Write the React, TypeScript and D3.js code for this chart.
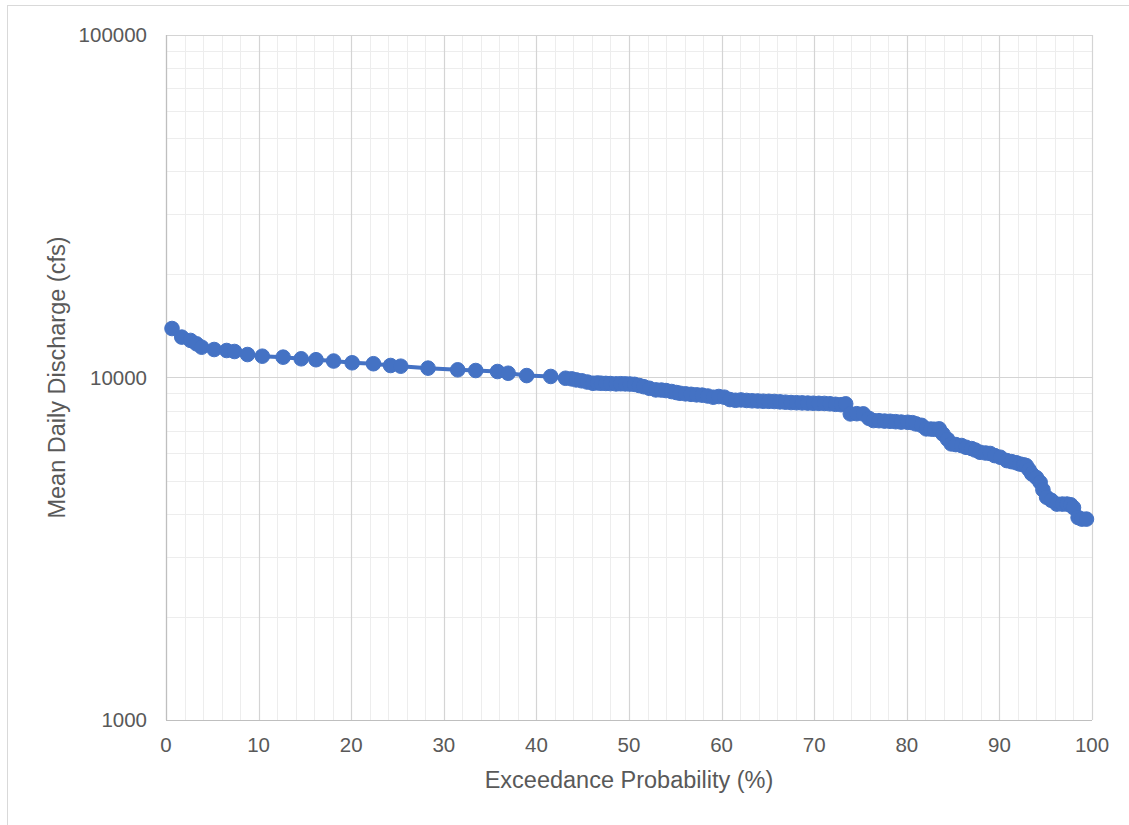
import React, { useEffect, useRef } from 'react';
import * as d3 from 'd3';

// exceedance probability (%) and mean daily discharge (cfs)
const probability = [
  0.65, 1.7, 2.65, 3.3, 3.85, 5.2, 6.55, 7.4, 8.8, 10.4, 12.65, 14.6, 16.2, 18.1, 20.1,
  22.4, 24.25, 25.35, 28.3, 31.5, 33.45, 35.8, 36.95, 38.95, 41.55, 43.15, 43.8, 44.3,
  44.9, 45.5, 46.1, 46.6, 47.0, 47.5, 48.0, 48.6, 49.1, 49.6, 50.1, 50.6, 51.1, 51.6,
  52.2, 52.9, 53.5, 54.0, 54.6, 55.1, 55.5, 56.1, 56.7, 57.3, 57.9, 58.5, 59.1, 59.7,
  60.3, 60.9, 61.5, 62.1, 62.7, 63.3, 63.9, 64.5, 65.1, 65.7, 66.3, 66.9, 67.5, 68.1,
  68.7, 69.3, 69.9, 70.5, 71.1, 71.7, 72.3, 72.9, 73.4, 73.9, 74.6, 75.3, 75.9, 76.4,
  77.0, 77.6, 78.2, 78.8, 79.4, 80.1, 80.6, 81.0, 81.6, 82.1, 82.6, 83.0, 83.5, 83.9,
  84.4, 84.8, 85.3, 85.9, 86.4, 87.0, 87.4, 87.9, 88.5, 89.0, 89.5, 90.1, 90.8, 91.3,
  91.8, 92.2, 92.6, 92.9, 93.2, 93.5, 94.0, 94.4, 94.7, 95.1, 95.6, 96.2, 96.8, 97.3,
  97.7, 98.0, 98.5, 98.9, 99.4,
];
const discharge = [
  13900, 13120, 12830, 12540, 12260, 12070, 11990, 11910, 11670, 11540, 11465, 11340,
  11270, 11170, 11040, 10970, 10840, 10790, 10650, 10530, 10480, 10410, 10290, 10130,
  10070, 9950, 9910, 9840, 9780, 9700, 9620, 9640, 9620, 9610, 9600, 9580, 9590, 9580,
  9570, 9550, 9475, 9400, 9300, 9200, 9190, 9160, 9100, 9040, 8995, 8960, 8930, 8900,
  8880, 8830, 8760, 8800, 8760, 8620, 8580, 8600, 8570, 8550, 8540, 8525, 8520, 8510,
  8490, 8470, 8450, 8440, 8430, 8420, 8410, 8405, 8400, 8380, 8350, 8330, 8376, 7830,
  7840, 7830, 7600, 7486, 7480, 7460, 7450, 7430, 7410, 7400, 7380, 7320, 7250, 7080,
  7070, 7060, 7080, 6840, 6600, 6400, 6370, 6330, 6255, 6200, 6140, 6050, 6020, 6000,
  5915, 5850, 5720, 5680, 5640, 5590, 5560, 5530, 5380, 5230, 5100, 4940, 4700, 4470,
  4380, 4270, 4270, 4270, 4250, 4170, 3900, 3860, 3860,
];

const xTicks = [0, 10, 20, 30, 40, 50, 60, 70, 80, 90, 100];
const yTicks = [1000, 10000, 100000];

const W = 1129;
const H = 825;
const margin = { top: 35, right: 37, bottom: 105, left: 166 };
const blue = '#4472C4';
const font = 'Liberation Sans, Arial, sans-serif';

export default function App() {
  const root = useRef<SVGSVGElement>(null);

  useEffect(() => {
    const svg = d3.select(root.current);
    svg.selectAll('*').remove();

    const w = W - margin.left - margin.right;
    const h = H - margin.top - margin.bottom;

    svg.append('rect')
      .attr('x', 7.5).attr('y', 5.5)
      .attr('width', W + 10).attr('height', H + 10)
      .attr('fill', '#fff').attr('stroke', '#d9d9d9');

    const g = svg.append('g').attr('transform', `translate(${margin.left}, ${margin.top})`);

    const x = d3.scaleLinear().domain([0, 100]).range([0, w]);
    const y = d3.scaleLog().domain([1000, 100000]).range([h, 0]);

    // minor grid
    const minorX = d3.range(0, 101, 2).filter(v => v % 10 !== 0);
    g.selectAll('.minor-x').data(minorX).enter().append('line')
      .attr('x1', d => Math.round(x(d)) + 0.5).attr('x2', d => Math.round(x(d)) + 0.5)
      .attr('y1', 0).attr('y2', h)
      .attr('stroke', '#ededed').attr('stroke-width', 1);

    const minorY: number[] = [];
    [1000, 10000].forEach(dec => d3.range(2, 10).forEach(k => minorY.push(dec * k)));
    g.selectAll('.minor-y').data(minorY).enter().append('line')
      .attr('x1', 0).attr('x2', w)
      .attr('y1', d => Math.round(y(d)) + 0.5).attr('y2', d => Math.round(y(d)) + 0.5)
      .attr('stroke', '#ededed').attr('stroke-width', 1);

    // major grid
    g.selectAll('.major-x').data(xTicks).enter().append('line')
      .attr('x1', d => Math.round(x(d)) + 0.5).attr('x2', d => Math.round(x(d)) + 0.5)
      .attr('y1', 0).attr('y2', h)
      .attr('stroke', '#d4d4d4').attr('stroke-width', 1.2);

    g.selectAll('.major-y').data(yTicks).enter().append('line')
      .attr('x1', 0).attr('x2', w)
      .attr('y1', d => Math.round(y(d)) + 0.5).attr('y2', d => Math.round(y(d)) + 0.5)
      .attr('stroke', '#d4d4d4').attr('stroke-width', 1.2);

    // axis lines
    g.append('line').attr('x1', 0).attr('x2', w).attr('y1', h + 0.5).attr('y2', h + 0.5)
      .attr('stroke', '#bfbfbf').attr('stroke-width', 1.2);
    g.append('line').attr('x1', 0.5).attr('x2', 0.5).attr('y1', 0).attr('y2', h)
      .attr('stroke', '#bfbfbf').attr('stroke-width', 1.2);

    // tick labels
    g.selectAll('.xlab').data(xTicks).enter().append('text')
      .attr('x', d => x(d)).attr('y', h + 32)
      .attr('text-anchor', 'middle')
      .attr('font-family', font).attr('font-size', 20.5).attr('fill', '#595959')
      .text(d => d);

    g.selectAll('.ylab').data(yTicks).enter().append('text')
      .attr('x', -19).attr('y', d => y(d) + 7)
      .attr('text-anchor', 'end')
      .attr('font-family', font).attr('font-size', 20.5).attr('fill', '#595959')
      .text(d => d);

    // axis titles
    svg.append('text')
      .attr('x', margin.left + w / 2).attr('y', 788)
      .attr('text-anchor', 'middle')
      .attr('font-family', font).attr('font-size', 23.5).attr('fill', '#595959')
      .text('Exceedance Probability (%)');

    svg.append('text')
      .attr('transform', `translate(65, ${margin.top + h / 2}) rotate(-90)`)
      .attr('text-anchor', 'middle')
      .attr('font-family', font).attr('font-size', 23.5).attr('fill', '#595959')
      .text('Mean Daily Discharge (cfs)');

    // series
    const data = probability.map((p, i) => ({ p, q: discharge[i] }));
    const line = d3.line<{ p: number; q: number }>()
      .x(d => x(d.p))
      .y(d => y(d.q));

    g.append('path')
      .attr('d', line(data))
      .attr('fill', 'none')
      .attr('stroke', blue)
      .attr('stroke-width', 4)
      .attr('stroke-linejoin', 'round');

    g.selectAll('.pt').data(data).enter().append('circle')
      .attr('cx', d => x(d.p)).attr('cy', d => y(d.q))
      .attr('r', 7.3)
      .attr('fill', blue)
      .attr('stroke', blue).attr('stroke-width', 1);
  }, []);

  return (
    <svg
      ref={root}
      width={W}
      height={H}
      style={{ position: 'absolute', left: 0, top: 0, background: '#fff' }}
    />
  );
}
